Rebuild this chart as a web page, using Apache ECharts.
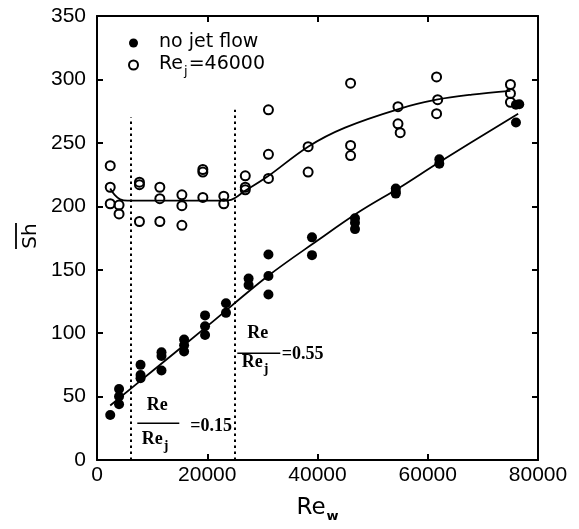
<!DOCTYPE html>
<html>
<head>
<meta charset="utf-8">
<script src="https://cdn.jsdelivr.net/npm/echarts@6/dist/echarts.min.js"></script>
<style>html,body{margin:0;padding:0;background:#fff}#c{width:579px;height:529px}</style>
</head>
<body>
<div id="c"></div>
<script>
// ---- data ----
var jetX = [2400,2400,2400,4000,4000,7700,7700,7700,11400,11400,11400,15400,15400,15400,19200,19200,19200,23000,23000,26900,26900,26900,31100,31100,31100,38300,38300,46000,46000,46000,54600,54600,55000,61600,61800,61600,75000,75000,75000];
var jetY = [232,215,202,201,194,219,217,188,215,206,188,209,200.5,185,229,227,207,208,202,224,215,213,276,241,222,247,227,297,248,240,278.5,265,258,302,284,273,296,289,282];
var noJetX = [2400,4000,4000,4000,7900,7900,7900,11700,11700,11700,15800,15800,15800,19600,19600,19600,23400,23400,27500,27500,31100,31100,31100,39000,39000,46800,46800,46800,54200,54200,54200,62100,62100,76000,76600,76000];
var noJetY = [35.5,56,50,44,75,67,64.5,85,82,70.5,95,90.5,85.5,114,105.5,98.5,123.5,116,143,138,162,145,130.5,175.5,161.5,190.5,187,182,214,211.5,210,237,233.5,280,280.5,266];
var fitJetX = [2400,3200,4200,5500,7000,12000,18000,23000,24300,26800,30800,38300,45000,55000,61600,68000,75000];
var fitJetY = [214,209,205.5,204.4,204.4,204.4,204.4,204.4,205,212,223,247,262,277,284,288,291];
var fitNoJetX = [2400,10000,20000,31000,40000,47700,55000,62000,76400];
var fitNoJetY = [43,70,105.5,145,173,196,215,234.5,273];
var critX = [6100, 24900];
var critTop = [270, 276];
var xTicks = [0, 20000, 40000, 60000, 80000];
var yTicks = [0, 50, 100, 150, 200, 250, 300, 350];
var legendNames = ['no jet flow', 'Re_j=46000'];
var ann = [
  {x: 7310, y: 28.9, w: 42, ratio: '=0.15', numGap: 11, denGap: 10.5, ratioDx: 53, ratioDy: 3},
  {x: 25450, y: 84.1, w: 43, ratio: '=0.55', numGap: 13, denGap: 3.5, ratioDx: 44.5, ratioDy: 1}
];

function zip(a, b) { return a.map(function (v, i) { return [v, b[i]]; }); }

var FONT = 'DejaVu Sans';
var TICKFONT = 'Liberation Sans';
var chart = echarts.init(document.getElementById('c'), null, {renderer: 'canvas'});
var axisLine = {show: true, onZero: false, lineStyle: {color: '#000', width: 2}};
var tick = {show: true, inside: true, length: 6, lineStyle: {color: '#000', width: 2}};
var plain = function (v) { return String(v); };

var option = {
  animation: false,
  backgroundColor: '#fff',
  grid: {left: 97, right: 41, top: 16, bottom: 69},
  xAxis: [
    {type: 'value', min: xTicks[0], max: xTicks[xTicks.length - 1], interval: 20000, position: 'bottom',
     axisLine: axisLine, axisTick: tick, splitLine: {show: false},
     axisLabel: {color: '#000', fontFamily: TICKFONT, fontSize: 21, margin: 5, formatter: plain},
     name: '{a|Re}{s|w}', nameLocation: 'middle', nameGap: 37,
     nameTextStyle: {rich: {
       a: {fontFamily: FONT, fontSize: 23, color: '#000', verticalAlign: 'top', lineHeight: 26},
       s: {fontFamily: FONT, fontSize: 13, fontWeight: 'bold', color: '#000', verticalAlign: 'top', lineHeight: 13, padding: [13, 0, 0, 1]}
     }}},
    {type: 'value', min: xTicks[0], max: xTicks[xTicks.length - 1], interval: 20000, position: 'top',
     axisLine: axisLine, axisTick: tick, splitLine: {show: false}, axisLabel: {show: false}}
  ],
  yAxis: [
    {type: 'value', min: yTicks[0], max: yTicks[yTicks.length - 1], interval: 50, position: 'left',
     axisLine: axisLine, axisTick: tick, splitLine: {show: false},
     axisLabel: {color: '#000', fontFamily: TICKFONT, fontSize: 21, margin: 11, formatter: plain}},
    {type: 'value', min: yTicks[0], max: yTicks[yTicks.length - 1], interval: 50, position: 'right',
     axisLine: axisLine, axisTick: tick, splitLine: {show: false}, axisLabel: {show: false}}
  ],
  legend: {
    orient: 'vertical', left: 123, top: 28, itemWidth: 41, itemHeight: 9, itemGap: 3,
    data: [{name: legendNames[0], icon: 'circle'}, {name: legendNames[1], icon: 'circle'}],
    textStyle: {color: '#000', fontFamily: FONT, fontSize: 19,
      rich: {
        n: {fontFamily: FONT, fontSize: 19, color: '#000', verticalAlign: 'top', lineHeight: 20},
        s: {fontFamily: FONT, fontSize: 13, color: '#000', verticalAlign: 'top', lineHeight: 13, padding: [10, 1, 0, 1]}
      }},
    formatter: function (name) {
      if (name === legendNames[1]) return '{n|Re}{s|j}{n|=46000}';
      return '{n|' + name + '}';
    }
  },
  series: [
    {name: 'fitJet', type: 'line', data: zip(fitJetX, fitJetY), showSymbol: false, symbol: 'none',
     smooth: 0.35, lineStyle: {color: '#000', width: 1.8}, z: 2, silent: true,
     markLine: {silent: true, symbol: ['none', 'none'], label: {show: false},
       lineStyle: {color: '#000', width: 2, type: [2.5, 3.5]},
       data: critX.map(function (x, i) { return [{coord: [x, 0]}, {coord: [x, critTop[i]]}]; })}},
    {name: 'fitNoJet', type: 'line', data: zip(fitNoJetX, fitNoJetY), showSymbol: false, symbol: 'none',
     smooth: 0.35, lineStyle: {color: '#000', width: 1.8}, z: 2, silent: true},
    {name: legendNames[0], type: 'scatter', data: zip(noJetX, noJetY), symbol: 'circle', symbolSize: 10,
     itemStyle: {color: '#000', opacity: 1}, z: 3},
    {name: legendNames[1], type: 'scatter', data: zip(jetX, jetY), symbol: 'circle', symbolSize: 9,
     itemStyle: {color: 'rgba(255,255,255,0)', borderColor: '#000', borderWidth: 2, opacity: 1}, z: 3}
  ]
};
chart.setOption(option);

// annotations positioned from data coordinates
var SERIF = 'Liberation Serif';
var graphics = [];
ann.forEach(function (a) {
  var p = chart.convertToPixel({xAxisIndex: 0, yAxisIndex: 0}, [a.x, a.y]);
  graphics.push({type: 'group', x: p[0], y: p[1], silent: true, children: [
    {type: 'line', shape: {x1: 0, y1: 0, x2: a.w, y2: 0}, style: {stroke: '#000', lineWidth: 1.5}},
    {type: 'text', x: a.w / 2 - 1, y: -a.numGap + 2, style: {text: 'Re', fill: '#000', font: 'bold 18px "' + SERIF + '"', align: 'center', verticalAlign: 'bottom'}},
    {type: 'text', x: 4.5, y: a.denGap - 3, style: {text: '{d|Re}{s|j}', align: 'left', verticalAlign: 'top',
      rich: {d: {fontFamily: SERIF, fontWeight: 'bold', fontSize: 18, fill: '#000', color: '#000', verticalAlign: 'top', lineHeight: 18},
             s: {fontFamily: SERIF, fontWeight: 'bold', fontSize: 14, fill: '#000', color: '#000', verticalAlign: 'top', lineHeight: 14, padding: [9, 0, 0, 1]}}}},
    {type: 'text', x: a.ratioDx, y: a.ratioDy, style: {text: a.ratio, fill: '#000', font: 'bold 18px "' + SERIF + '"', align: 'left', verticalAlign: 'middle'}}
  ]});
});
// y-axis title: S-h with overbar, rotated
graphics.push({type: 'group', x: 31, y: 236, rotation: Math.PI / 2, silent: true, children: [
  {type: 'text', x: 0, y: 0, style: {text: 'Sh', fill: '#000', font: '20px "' + FONT + '"', align: 'center', verticalAlign: 'middle'}},
  {type: 'line', shape: {x1: -13, y1: -15, x2: 13, y2: -15}, style: {stroke: '#000', lineWidth: 1.8}}
]});
chart.setOption({graphic: graphics});
</script>
</body>
</html>
